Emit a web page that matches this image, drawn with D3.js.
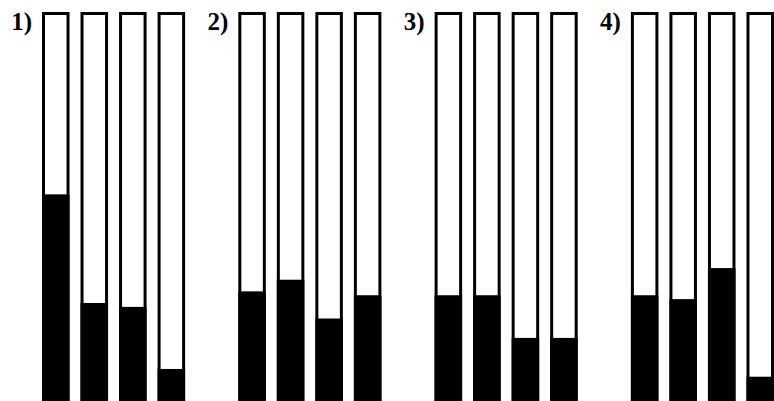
<!DOCTYPE html>
<html>
<head>
<meta charset="utf-8">
<script src="https://cdn.jsdelivr.net/npm/d3@7"></script>
<style>
  html, body { margin: 0; padding: 0; background: #fff; }
  svg { display: block; }
</style>
</head>
<body>
<svg id="chart" width="774" height="401"></svg>
<script>
// Four panels, each with four vertical tubes filled from the bottom (percent of tube height)
const panels = ["1)", "2)", "3)", "4)"];
const tubes = ["a", "b", "c", "d"];
const panel1 = [53, 25, 24, 8];
const panel2 = [28, 31, 21, 27];
const panel3 = [27, 27, 16, 16];
const panel4 = [27, 26, 34, 6];
const fills = [panel1, panel2, panel3, panel4];

const svg = d3.select("#chart");
const topY = 12, bottomY = 400;
const stroke = 3;

const xPanel = d3.scaleBand()
  .domain(panels)
  .range([42, 774])
  .paddingInner(0.271)
  .paddingOuter(0);

const xTube = d3.scaleBand()
  .domain(tubes)
  .range([0, xPanel.bandwidth()])
  .paddingInner(0.2857)
  .paddingOuter(0);

const y = d3.scaleLinear().domain([0, 100]).range([bottomY, topY]);

const g = svg.selectAll("g.panel")
  .data(panels.map((p, i) => ({ label: p, values: fills[i] })))
  .join("g")
  .attr("class", "panel")
  .attr("transform", d => `translate(${xPanel(d.label)},0)`);

g.append("text")
  .attr("x", -10)
  .attr("y", 30)
  .attr("text-anchor", "end")
  .attr("font-family", "'Liberation Serif', 'Times New Roman', serif")
  .attr("font-weight", "bold")
  .attr("font-size", 25)
  .attr("fill", "#000")
  .text(d => d.label);

const tube = g.selectAll("g.tube")
  .data(d => d.values.map((v, j) => ({ key: tubes[j], v })))
  .join("g")
  .attr("class", "tube")
  .attr("transform", d => `translate(${xTube(d.key)},0)`);

// outline of the tube
tube.append("rect")
  .attr("x", stroke / 2)
  .attr("y", topY + stroke / 2)
  .attr("width", xTube.bandwidth() - stroke)
  .attr("height", bottomY + 10 - topY)
  .attr("fill", "#fff")
  .attr("stroke", "#000")
  .attr("stroke-width", stroke);

// filled portion
tube.append("rect")
  .attr("x", 0)
  .attr("y", d => y(d.v))
  .attr("width", xTube.bandwidth())
  .attr("height", d => bottomY + 10 - y(d.v))
  .attr("fill", "#000");
</script>
</body>
</html>
